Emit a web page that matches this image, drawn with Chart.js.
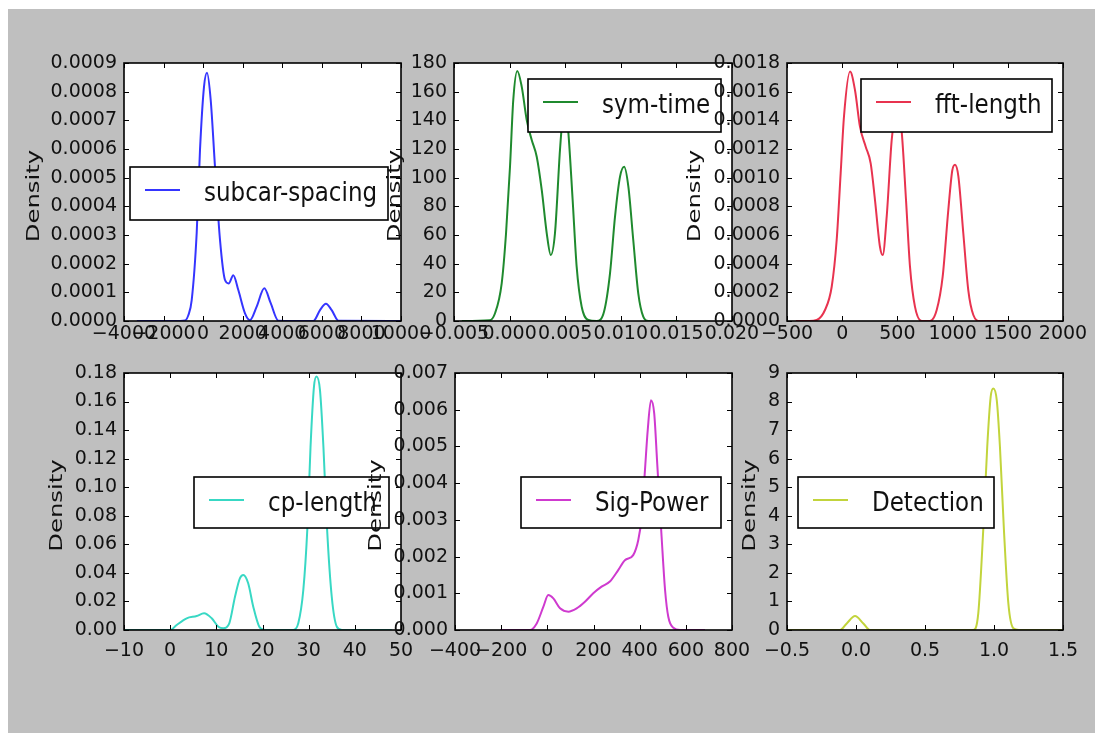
<!DOCTYPE html>
<html><head><meta charset="utf-8">
<script src="https://cdn.jsdelivr.net/npm/chart.js@4.4.1/dist/chart.umd.min.js"></script>
<style>
html,body{margin:0;padding:0;background:#fff;width:1102px;height:741px;overflow:hidden}
#bg{position:absolute;left:8px;top:9px;width:1087px;height:724px;background:#bfbfbf}
canvas{position:absolute;left:0;top:0}
</style></head><body>
<div id="bg"></div>
<canvas id="c1" width="1102" height="741"></canvas>
<canvas id="c2" width="1102" height="741"></canvas>
<canvas id="c3" width="1102" height="741"></canvas>
<canvas id="c4" width="1102" height="741"></canvas>
<canvas id="c5" width="1102" height="741"></canvas>
<canvas id="c6" width="1102" height="741"></canvas>
<script>
// ---------- data ----------
const seriesNames = ['subcar-spacing', 'sym-time', 'fft-length', 'cp-length', 'Sig-Power', 'Detection'];
const yLabel = 'Density';

const subcarX = [-3350, -1500, -917, -750, -578, -326, -159, 43, 195, 382, 600, 852, 1105, 1290, 1525, 1778, 2115, 2368, 2706, 3091, 3415, 3800, 5571, 5906, 6209, 6497, 6837, 10000];
const subcarY = [0, 0, 0.000002, 0.00002, 0.000073, 0.000307, 0.000597, 0.000817, 0.000866, 0.000771, 0.000537, 0.000283, 0.000143, 0.000131, 0.000160, 0.000108, 0.000027, 0.000003, 0.000050, 0.000114, 0.000062, 0.000001, 0, 0.000038, 0.000060, 0.000038, 0.000001, 0];

const symX = [-0.0043, -0.0018, -0.00131, -0.00071, -0.00032, 0.000036, 0.00033, 0.00069, 0.00109, 0.00154, 0.00199, 0.00244, 0.00289, 0.00334, 0.0037, 0.00408, 0.00453, 0.00478, 0.0050, 0.00528, 0.00567, 0.00603, 0.00648, 0.00708, 0.00783, 0.00849, 0.00903, 0.00948, 0.00993, 0.0103, 0.01068, 0.01112, 0.01157, 0.01202, 0.01247, 0.0152];
const symY = [0, 0.5, 5.4, 26.3, 61.2, 107.6, 154.2, 174.5, 163.5, 140.2, 126.3, 114.6, 91.4, 61.2, 46, 61.2, 119.3, 143, 152, 132, 84.4, 37.9, 10, 0.7, 0, 6.5, 33.3, 72.8, 100.7, 107.6, 93.7, 56.5, 19.3, 3, 0, 0];

const fftX = [-420, -300, -231, -156, -95, -50, -14, 16, 71, 116, 161, 213, 258, 297, 342, 367, 403, 448, 475, 500, 539, 578, 614, 659, 720, 795, 856, 910, 961, 997, 1022, 1052, 1097, 1142, 1188, 1248, 1500];
const fftY = [0, 0, 0.000007, 0.0000767, 0.000239, 0.000565, 0.00103, 0.001425, 0.00174, 0.00161, 0.001356, 0.001216, 0.0011, 0.000844, 0.000518, 0.00046, 0.000728, 0.00126, 0.00143, 0.0015, 0.00132, 0.000844, 0.000379, 0.0001, 0, 0, 0.0000767, 0.000309, 0.000774, 0.00105, 0.00109, 0.00101, 0.000612, 0.000216, 0.000042, 0, 0];

const cpX = [-10, 0, 1.41, 3.58, 5.75, 7.33, 9, 10.43, 11.5, 12.8, 14.04, 15.1, 15.84, 16.9, 18, 19.3, 20.5, 26.7, 27.75, 28.84, 29.7, 30.4, 31.15, 31.7, 32.45, 33.2, 34, 35, 36.1, 37.2, 48];
const cpY = [0, 0, 0.0035, 0.0082, 0.0098, 0.0117, 0.0082, 0.0023, 0.0012, 0.0047, 0.0233, 0.0362, 0.0385, 0.0327, 0.0163, 0.0023, 0, 0, 0.0047, 0.028, 0.07, 0.128, 0.1704, 0.1775, 0.168, 0.128, 0.07, 0.0233, 0.0023, 0, 0];

const sigX = [-205, -75, -46, -17, 4, 26, 55, 91, 127, 163, 199, 235, 271, 307, 336, 372, 394, 409, 423, 435, 449, 463, 476, 495, 510, 524, 546, 575, 683];
const sigY = [0, 0, 0.00018, 0.000635, 0.00095, 0.00086, 0.00059, 0.0005, 0.00059, 0.00077, 0.001, 0.00118, 0.00132, 0.00163, 0.0019, 0.00204, 0.00245, 0.00309, 0.00436, 0.00545, 0.00626, 0.0059, 0.00454, 0.00254, 0.00109, 0.00036, 0.00006, 0, 0];

const detX = [-0.5, -0.116, -0.067, -0.007, 0.053, 0.101, 0.85, 0.886, 0.922, 0.951, 0.976, 0.995, 1.02, 1.043, 1.072, 1.104, 1.14, 1.18, 1.5];
const detY = [0, 0, 0.23, 0.49, 0.23, 0, 0, 0.58, 3.5, 6.42, 8.17, 8.46, 8.05, 6.42, 3.5, 0.93, 0.06, 0, 0];

// axis ranges / tick steps
const xMin = [-4000, -0.005, -500, -10, -400, -0.5];
const xMax = [10000, 0.020, 2000, 50, 800, 1.5];
const xStep = [2000, 0.005, 500, 10, 200, 0.5];
const xDecimals = [0, 3, 0, 0, 0, 1];
const yMax = [0.0009, 180, 0.0018, 0.18, 0.007, 9];
const yStep = [0.0001, 20, 0.0002, 0.02, 0.001, 1];
const yDecimals = [4, 0, 4, 2, 3, 0];

// ---------- styles / layout ----------
const colors = ['#3535ff', '#1f8a2e', '#e8334f', '#38d8c4', '#cf3acf', '#c2d43c'];
const areas = [
  {l:124, t:63, r:401, b:321}, {l:454, t:63, r:732, b:321}, {l:787, t:63, r:1063, b:321},
  {l:124, t:373, r:401, b:630}, {l:455, t:373, r:732, b:630}, {l:787, t:373, r:1063, b:630}
];
const legendBoxes = [
  {dx:6, dy:104, w:258, h:53}, {dx:74, dy:16, w:193, h:53}, {dx:74, dy:16, w:191, h:53},
  {dx:70, dy:104, w:195, h:51}, {dx:66, dy:104, w:200, h:51}, {dx:11, dy:104, w:196, h:51}
];
const ylabelDx = [-85, -54, -87, -62, -74, -32];
const xLabelPad = [2, 2, 2, 10, 10, 10];
const FONT = '"DejaVu Sans", "Bitstream Vera Sans", sans-serif';

function fmt(dec) {
  return function (v) {
    const neg = v < -1e-12;
    return (neg ? '\u2212' : '') + Math.abs(v).toFixed(dec);
  };
}

const decor = {
  id: 'decor',
  beforeDraw(chart) {
    const {ctx, chartArea: a} = chart;
    ctx.save();
    ctx.fillStyle = '#ffffff';
    ctx.fillRect(a.left, a.top, a.right - a.left, a.bottom - a.top);
    ctx.restore();
  },
  afterDatasetsDraw(chart, args, o) {
    const {ctx, chartArea: a} = chart;
    const sx = chart.scales.x, sy = chart.scales.y;
    ctx.save();
    ctx.strokeStyle = '#000';
    ctx.lineWidth = 1;
    ctx.beginPath();
    sx.ticks.forEach(t => {
      const p = Math.round(sx.getPixelForValue(t.value)) + 0.5;
      ctx.moveTo(p, a.bottom); ctx.lineTo(p, a.bottom - 5);
      ctx.moveTo(p, a.top); ctx.lineTo(p, a.top + 5);
    });
    sy.ticks.forEach(t => {
      const p = Math.round(sy.getPixelForValue(t.value)) + 0.5;
      ctx.moveTo(a.left, p); ctx.lineTo(a.left + 5, p);
      ctx.moveTo(a.right, p); ctx.lineTo(a.right - 5, p);
    });
    ctx.stroke();
    ctx.lineWidth = 1.6;
    ctx.strokeRect(a.left, a.top, a.right - a.left, a.bottom - a.top);

    // legend box
    const L = o.box;
    const bx = a.left + L.dx, by = a.top + L.dy;
    ctx.fillStyle = '#fff';
    ctx.fillRect(bx, by, L.w, L.h);
    ctx.lineWidth = 1.6;
    ctx.strokeStyle = '#000';
    ctx.strokeRect(bx, by, L.w, L.h);
    const ds = chart.data.datasets[0];
    ctx.strokeStyle = ds.borderColor;
    ctx.lineWidth = 2.2;
    ctx.beginPath();
    ctx.moveTo(bx + 15, by + 23); ctx.lineTo(bx + 50, by + 23);
    ctx.stroke();
    ctx.fillStyle = '#111';
    ctx.font = '23px ' + FONT;
    ctx.textBaseline = 'alphabetic';
    ctx.textAlign = 'left';
    ctx.save();
    ctx.translate(bx + 74, by + 34);
    ctx.scale(1, 1.15);
    ctx.fillText(ds.label, 0, 0);
    ctx.restore();

    // y axis title
    ctx.save();
    ctx.translate(a.left + o.ylabelDx, (a.top + a.bottom) / 2 + 4);
    ctx.rotate(-Math.PI / 2);
    ctx.scale(1.35, 1);
    ctx.textAlign = 'center';
    ctx.textBaseline = 'alphabetic';
    ctx.font = '18px ' + FONT;
    ctx.fillStyle = '#111';
    ctx.fillText(o.ylabel, 0, 0);
    ctx.restore();
    ctx.restore();
  }
};

const xs = [subcarX, symX, fftX, cpX, sigX, detX];
const ys = [subcarY, symY, fftY, cpY, sigY, detY];
const W = 1102, H = 741, AXW = 80, AXH = 32;

for (let i = 0; i < 6; i++) {
  const a = areas[i];
  const pts = xs[i].map((x, k) => ({x: x, y: ys[i][k]}));
  new Chart(document.getElementById('c' + (i + 1)), {
    type: 'line',
    data: {datasets: [{
      label: seriesNames[i], data: pts, borderColor: colors[i], borderWidth: 2,
      pointRadius: 0, fill: false, cubicInterpolationMode: 'monotone'
    }]},
    options: {
      responsive: false, animation: false, events: [],
      layout: {padding: {left: a.l - AXW, top: a.t, right: W - a.r, bottom: H - a.b - AXH}},
      plugins: {
        legend: {display: false}, tooltip: {enabled: false},
        decor: {box: legendBoxes[i], ylabelDx: ylabelDx[i], ylabel: yLabel}
      },
      scales: {
        x: {
          type: 'linear', min: xMin[i], max: xMax[i],
          grid: {display: false, drawTicks: false}, border: {display: false},
          ticks: {stepSize: xStep[i], autoSkip: false, maxRotation: 0, minRotation: 0,
            padding: xLabelPad[i], color: '#111', font: {family: FONT, size: 19},
            callback: fmt(xDecimals[i])},
          afterFit(s) { s.height = AXH; }
        },
        y: {
          type: 'linear', min: 0, max: yMax[i],
          grid: {display: false, drawTicks: false}, border: {display: false},
          ticks: {stepSize: yStep[i], autoSkip: false, padding: 7, color: '#111',
            font: {family: FONT, size: 19}, callback: fmt(yDecimals[i])},
          afterFit(s) { s.width = AXW; }
        }
      }
    },
    plugins: [decor]
  });
}
</script>
</body></html>
